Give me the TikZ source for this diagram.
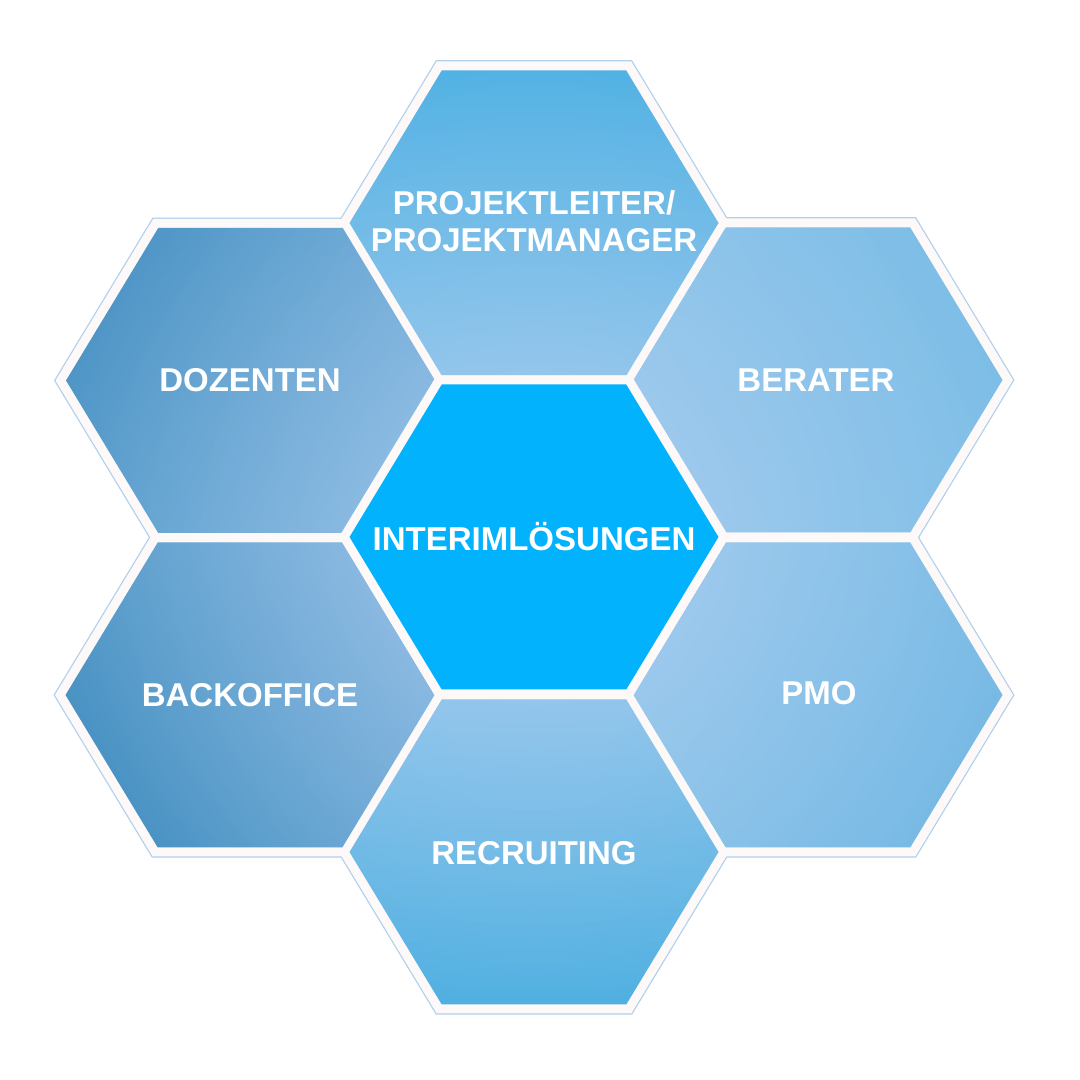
\documentclass[tikz,border=0pt]{standalone}
\usepackage{fontspec}
\setmainfont{Liberation Sans}
\usetikzlibrary{fadings}
\definecolor{cenblue}{HTML}{03B2FD}
\definecolor{hexwhite}{HTML}{FDF9F9}
\definecolor{hexline}{HTML}{B0D0EE}
\definecolor{glowc}{HTML}{E6E2F8}
\tikzfading[name=glowfade, inner color=transparent!60, outer color=transparent!100]
\def\hex#1{(#1) ++(184.5,0) -- ++(-92.25,152.5) -- ++(-184.5,0) -- ++(-92.25,-152.5) -- ++(92.25,-152.5) -- ++(184.5,0) -- cycle}
\tikzset{
  hexline/.style={draw=hexline, line width=20.5pt, line join=miter},
  hexborder/.style={draw=hexwhite, line width=18pt, line join=miter},
  label/.style={text=white, font=\bfseries\fontsize{33}{37}\selectfont, align=center, inner sep=0pt}
}
\begin{document}
\begin{tikzpicture}[x=1pt,y=1pt]
\useasboundingbox (0,0) rectangle (1080,1080);
\fill[white] (0,0) rectangle (1080,1080);
\coordinate (doz) at (250.5,699.5);
\coordinate (top) at (534,857);
\coordinate (ber) at (818,700);
\coordinate (cen) at (534,543);
\coordinate (bac) at (250,385);
\coordinate (pmo) at (818,385);
\coordinate (rec) at (534,228);
% outlines and white borders
\foreach \c in {doz,top,ber,cen,bac,pmo,rec} { \path[hexline] \hex{\c}; }
\foreach \c in {doz,top,ber,cen,bac,pmo,rec} { \path[hexborder] \hex{\c}; }
% outer hexagon fills
\shade[top color={rgb,255:red,70;green,145;blue,195}, bottom color={rgb,255:red,104;green,172;blue,218}, shading angle=60] \hex{doz};
\shade[top color={rgb,255:red,72;green,175;blue,227}, bottom color={rgb,255:red,116;green,187;blue,231}, shading angle=0] \hex{top};
\shade[top color={rgb,255:red,120;green,188;blue,230}, bottom color={rgb,255:red,128;green,191;blue,232}, shading angle=-60] \hex{ber};
\shade[top color={rgb,255:red,114;green,184;blue,228}, bottom color={rgb,255:red,128;green,191;blue,232}, shading angle=-120] \hex{pmo};
\shade[top color={rgb,255:red,70;green,173;blue,224}, bottom color={rgb,255:red,116;green,187;blue,231}, shading angle=180] \hex{rec};
\shade[top color={rgb,255:red,64;green,142;blue,192}, bottom color={rgb,255:red,104;green,170;blue,217}, shading angle=120] \hex{bac};
% glow
\begin{scope}
\clip \hex{doz} \hex{top} \hex{ber} \hex{pmo} \hex{rec} \hex{bac};
\fill[glowc, path fading=glowfade] (cen) circle (560);
\end{scope}
% center hexagon
\path[hexborder] \hex{cen};
\fill[cenblue] \hex{cen};
% labels
\node[label] (tdoz) at (250,700) {DOZENTEN};
\node[label] (ttop) at (534,858.5) {PROJEKTLEITER/\\PROJEKTMANAGER};
\node[label] (tber) at (816,700) {BERATER};
\node[label] (tcen) at (534,543) {INTERIMLÖSUNGEN};
\node[label] (tbac) at (250,385) {BACKOFFICE};
\node[label] (tpmo) at (819,387) {PMO};
\node[label] (trec) at (534,227) {RECRUITING};
\end{tikzpicture}
\end{document}
